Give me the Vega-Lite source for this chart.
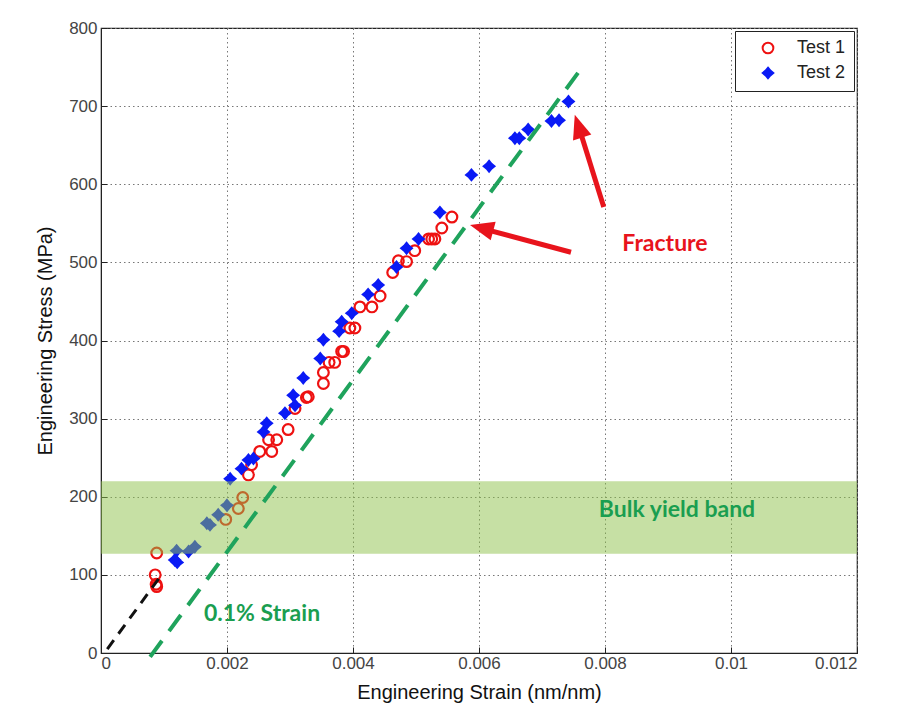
{
  "$schema": "https://vega.github.io/schema/vega-lite/v6.json",
  "width": 756,
  "height": 625,
  "autosize": {"type": "none"},
  "padding": {"left": 101, "top": 28, "right": 48, "bottom": 66},
  "background": "white",
  "config": {
    "view": {"stroke": "#222", "strokeWidth": 1.2},
    "axis": {
      "labelFont": "Liberation Sans",
      "labelFontSize": 17,
      "labelColor": "#444",
      "titleFont": "Liberation Sans",
      "titleFontSize": 20,
      "titleFontWeight": "normal",
      "titleColor": "#111",
      "domainColor": "#222",
      "tickColor": "#222",
      "gridColor": "#777",
      "gridDash": [1.5, 3],
      "gridOpacity": 1
    },
    "legend": {
      "orient": "top-right",
      "offset": 3,
      "padding": 8,
      "strokeColor": "#222",
      "fillColor": "white",
      "labelFont": "Liberation Sans",
      "labelFontSize": 18,
      "labelColor": "#222",
      "rowPadding": 5,
      "symbolOffset": 16,
      "labelOffset": 20,
      "symbolStrokeWidth": 2
    }
  },
  "layer": [
    {
      "data": {"values": [
        {"series": "Test 1", "strain": 0.000884, "stress": 128},
        {"series": "Test 1", "strain": 0.00086, "stress": 100},
        {"series": "Test 1", "strain": 0.000875, "stress": 88},
        {"series": "Test 1", "strain": 0.000884, "stress": 85},
        {"series": "Test 1", "strain": 0.00198, "stress": 171},
        {"series": "Test 1", "strain": 0.00218, "stress": 185},
        {"series": "Test 1", "strain": 0.00225, "stress": 199},
        {"series": "Test 1", "strain": 0.00234, "stress": 228},
        {"series": "Test 1", "strain": 0.00239, "stress": 241},
        {"series": "Test 1", "strain": 0.00252, "stress": 258},
        {"series": "Test 1", "strain": 0.00271, "stress": 258},
        {"series": "Test 1", "strain": 0.00266, "stress": 273},
        {"series": "Test 1", "strain": 0.00279, "stress": 273},
        {"series": "Test 1", "strain": 0.00297, "stress": 286},
        {"series": "Test 1", "strain": 0.00308, "stress": 313},
        {"series": "Test 1", "strain": 0.00326, "stress": 327},
        {"series": "Test 1", "strain": 0.00329, "stress": 328},
        {"series": "Test 1", "strain": 0.00353, "stress": 345},
        {"series": "Test 1", "strain": 0.00353, "stress": 359},
        {"series": "Test 1", "strain": 0.00362, "stress": 372},
        {"series": "Test 1", "strain": 0.00371, "stress": 372},
        {"series": "Test 1", "strain": 0.00382, "stress": 386},
        {"series": "Test 1", "strain": 0.00385, "stress": 386},
        {"series": "Test 1", "strain": 0.00395, "stress": 416},
        {"series": "Test 1", "strain": 0.00403, "stress": 416},
        {"series": "Test 1", "strain": 0.00411, "stress": 443},
        {"series": "Test 1", "strain": 0.0043, "stress": 443},
        {"series": "Test 1", "strain": 0.00443, "stress": 457},
        {"series": "Test 1", "strain": 0.00463, "stress": 487},
        {"series": "Test 1", "strain": 0.00472, "stress": 502},
        {"series": "Test 1", "strain": 0.00485, "stress": 501},
        {"series": "Test 1", "strain": 0.00498, "stress": 515},
        {"series": "Test 1", "strain": 0.0052, "stress": 530},
        {"series": "Test 1", "strain": 0.00525, "stress": 530},
        {"series": "Test 1", "strain": 0.0053, "stress": 530},
        {"series": "Test 1", "strain": 0.00541, "stress": 544},
        {"series": "Test 1", "strain": 0.00557, "stress": 558},
        {"series": "Test 2", "strain": 0.00117, "stress": 119},
        {"series": "Test 2", "strain": 0.00121, "stress": 116},
        {"series": "Test 2", "strain": 0.0012, "stress": 131},
        {"series": "Test 2", "strain": 0.00139, "stress": 130},
        {"series": "Test 2", "strain": 0.00149, "stress": 136},
        {"series": "Test 2", "strain": 0.00168, "stress": 166},
        {"series": "Test 2", "strain": 0.00173, "stress": 164},
        {"series": "Test 2", "strain": 0.00186, "stress": 177},
        {"series": "Test 2", "strain": 0.002, "stress": 189},
        {"series": "Test 2", "strain": 0.00205, "stress": 223},
        {"series": "Test 2", "strain": 0.00223, "stress": 236},
        {"series": "Test 2", "strain": 0.00234, "stress": 247},
        {"series": "Test 2", "strain": 0.00242, "stress": 249},
        {"series": "Test 2", "strain": 0.00258, "stress": 283},
        {"series": "Test 2", "strain": 0.00263, "stress": 294},
        {"series": "Test 2", "strain": 0.00292, "stress": 307},
        {"series": "Test 2", "strain": 0.00308, "stress": 317},
        {"series": "Test 2", "strain": 0.00305, "stress": 330},
        {"series": "Test 2", "strain": 0.00321, "stress": 352},
        {"series": "Test 2", "strain": 0.00348, "stress": 377},
        {"series": "Test 2", "strain": 0.00353, "stress": 401},
        {"series": "Test 2", "strain": 0.00378, "stress": 412},
        {"series": "Test 2", "strain": 0.00382, "stress": 424},
        {"series": "Test 2", "strain": 0.00398, "stress": 435},
        {"series": "Test 2", "strain": 0.00424, "stress": 459},
        {"series": "Test 2", "strain": 0.0044, "stress": 471},
        {"series": "Test 2", "strain": 0.00469, "stress": 494},
        {"series": "Test 2", "strain": 0.00485, "stress": 518},
        {"series": "Test 2", "strain": 0.00504, "stress": 530},
        {"series": "Test 2", "strain": 0.00538, "stress": 564},
        {"series": "Test 2", "strain": 0.00588, "stress": 612},
        {"series": "Test 2", "strain": 0.00616, "stress": 623},
        {"series": "Test 2", "strain": 0.00657, "stress": 659},
        {"series": "Test 2", "strain": 0.00664, "stress": 659},
        {"series": "Test 2", "strain": 0.00678, "stress": 670},
        {"series": "Test 2", "strain": 0.00715, "stress": 681},
        {"series": "Test 2", "strain": 0.00727, "stress": 682},
        {"series": "Test 2", "strain": 0.00742, "stress": 706}
      ]},
      "mark": {"type": "point", "strokeWidth": 2.2, "opacity": 1},
      "encoding": {
        "x": {
          "field": "strain", "type": "quantitative",
          "scale": {"domain": [0, 0.012], "nice": false},
          "axis": {"values": [0, 0.002, 0.004, 0.006, 0.008, 0.01, 0.012], "format": "~g", "title": "Engineering Strain (nm/nm)", "tickSize": -6, "labelPadding": 8, "titlePadding": 11, "grid": true}
        },
        "y": {
          "field": "stress", "type": "quantitative",
          "scale": {"domain": [0, 800], "nice": false},
          "axis": {"values": [0, 100, 200, 300, 400, 500, 600, 700, 800], "title": "Engineering Stress (MPa)", "tickSize": -6, "labelPadding": 10, "titlePadding": 13, "grid": true}
        },
        "shape": {
          "field": "series", "type": "nominal", "title": null,
          "scale": {"domain": ["Test 1", "Test 2"], "range": ["circle", "M0,-1L0.45,-0.45L1,0L0.45,0.45L0,1L-0.45,0.45L-1,0L-0.45,-0.45Z"]}
        },
        "stroke": {
          "field": "series", "type": "nominal", "title": null,
          "scale": {"domain": ["Test 1", "Test 2"], "range": ["#ee1111", "#0a1af5"]}
        },
        "fill": {
          "field": "series", "type": "nominal", "title": null,
          "scale": {"domain": ["Test 1", "Test 2"], "range": ["rgba(255,255,255,0)", "#0a1af5"]}
        },
        "size": {
          "field": "series", "type": "nominal", "title": null,
          "scale": {"domain": ["Test 1", "Test 2"], "range": [115, 110]}
        }
      }
    },
    {
      "data": {"values": [{"lo": 127, "hi": 220}]},
      "mark": {"type": "rect", "color": "#8dc149", "opacity": 0.5},
      "encoding": {
        "y": {"field": "lo", "type": "quantitative"},
        "y2": {"field": "hi"}
      }
    },
    {
      "data": {"values": [{"strain": 0.0001, "stress": 5}, {"strain": 0.00096, "stress": 100}]},
      "mark": {"type": "line", "color": "#111", "strokeWidth": 3, "strokeDash": [11, 8]},
      "encoding": {
        "x": {"field": "strain", "type": "quantitative"},
        "y": {"field": "stress", "type": "quantitative"}
      }
    },
    {
      "data": {"values": [{"strain": 0.00078, "stress": -5}, {"strain": 0.00763, "stress": 749}]},
      "mark": {"type": "line", "color": "#1fa35c", "strokeWidth": 4, "strokeDash": [20, 12]},
      "encoding": {
        "x": {"field": "strain", "type": "quantitative"},
        "y": {"field": "stress", "type": "quantitative"}
      }
    },
    {
      "data": {"values": [
        {"label": "Bulk yield band", "strain": 0.009143, "stress": 183},
        {"label": "0.1% Strain", "strain": 0.002556, "stress": 50}
      ]},
      "mark": {"type": "text", "font": "Lato", "fontWeight": "bold", "fontSize": 23, "color": "#1a9e50", "align": "center", "baseline": "middle"},
      "encoding": {
        "x": {"field": "strain", "type": "quantitative"},
        "y": {"field": "stress", "type": "quantitative"},
        "text": {"field": "label"}
      }
    },
    {
      "data": {"values": [{"label": "Fracture", "strain": 0.008952, "stress": 523}]},
      "mark": {"type": "text", "font": "Lato", "fontWeight": "bold", "fontSize": 23, "color": "#e8141c", "align": "center", "baseline": "middle"},
      "encoding": {
        "x": {"field": "strain", "type": "quantitative"},
        "y": {"field": "stress", "type": "quantitative"},
        "text": {"field": "label"}
      }
    },
    {
      "data": {"values": [
        {"x1": 0.00746, "y1": 513, "x2": 0.006087, "y2": 542.6},
        {"x1": 0.00798, "y1": 571, "x2": 0.0075968, "y2": 670}
      ]},
      "mark": {"type": "rule", "color": "#e8141c", "strokeWidth": 5},
      "encoding": {
        "x": {"field": "x1", "type": "quantitative"},
        "y": {"field": "y1", "type": "quantitative"},
        "x2": {"field": "x2"},
        "y2": {"field": "y2"}
      }
    },
    {
      "data": {"values": [{"strain": 0.005857, "stress": 548}]},
      "mark": {"type": "point", "shape": "M0,0L0.8,2L-0.8,2Z", "filled": true, "color": "#e8141c", "opacity": 1, "size": 576, "angle": 285},
      "encoding": {
        "x": {"field": "strain", "type": "quantitative"},
        "y": {"field": "stress", "type": "quantitative"}
      }
    },
    {
      "data": {"values": [{"strain": 0.00752, "stress": 689}]},
      "mark": {"type": "point", "shape": "M0,0L0.8,2L-0.8,2Z", "filled": true, "color": "#e8141c", "opacity": 1, "size": 576, "angle": 342},
      "encoding": {
        "x": {"field": "strain", "type": "quantitative"},
        "y": {"field": "stress", "type": "quantitative"}
      }
    }
  ]
}
